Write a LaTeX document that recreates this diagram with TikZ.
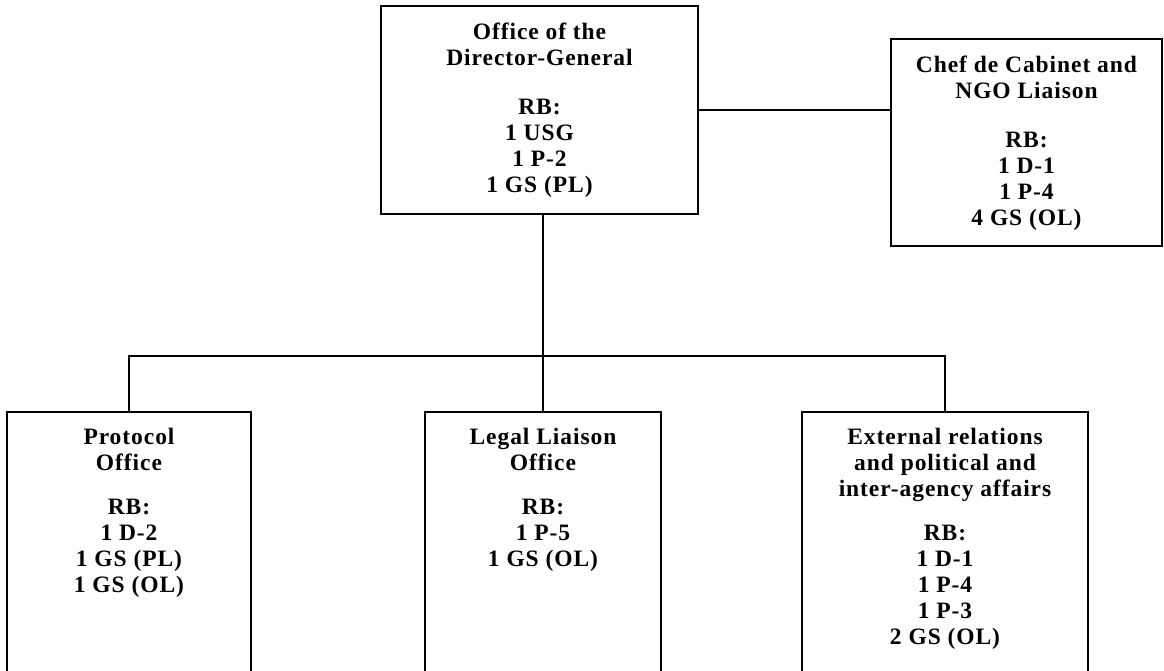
\documentclass[tikz,border=0pt]{standalone}
\usepackage{fontspec}
\setmainfont{Liberation Serif}[LetterSpace=4]
\usetikzlibrary{positioning}

\begin{document}
\begin{tikzpicture}[x=1pt, y=-1pt,
    unit/.style={rectangle, draw, line width=2.3pt, inner sep=0pt},
    unit text/.style={align=center, inner sep=0pt, font=\fontsize{23.5}{26}\selectfont\bfseries},
    link/.style={line width=2.2pt}
]
\clip (0,0) rectangle (1164,671);

% boxes
\node[unit, minimum width=317pt, minimum height=208pt] (dg) at (539.5,110) {};
\node[unit, minimum width=271pt, minimum height=207pt] (chef) at (1026.5,142.5) {};
\node[unit, minimum width=244pt, minimum height=300pt] (protocol) at (129,562) {};
\node[unit, minimum width=236pt, minimum height=300pt] (legal) at (543,562) {};
\node[unit, minimum width=286pt, minimum height=300pt] (external) at (945,562) {};

% texts
\node[unit text, below=18pt of dg.north] (dg text)
    {Office of the\\Director-General\\[23pt]RB:\\1 USG\\1 P-2\\1 GS (PL)};
\node[unit text, below=18pt of chef.north] (chef text)
    {Chef de Cabinet and\\NGO Liaison\\[23pt]RB:\\1 D-1\\1 P-4\\4 GS (OL)};
\node[unit text, below=17pt of protocol.north] (protocol text)
    {Protocol\\Office\\[18pt]RB:\\1 D-2\\1 GS (PL)\\1 GS (OL)};
\node[unit text, below=17pt of legal.north] (legal text)
    {Legal Liaison\\Office\\[18pt]RB:\\1 P-5\\1 GS (OL)};
\node[unit text, below=17pt of external.north] (external text)
    {External relations\\and political and\\inter-agency affairs\\[18pt]RB:\\1 D-1\\1 P-4\\1 P-3\\2 GS (OL)};

% connectors
\coordinate (bus) at (543,356);
\draw[link] (dg.east) -- (dg.east -| chef.west);
\draw[link] (dg.south -| legal.north) -- (legal.north);
\draw[link] (protocol.north) |- (bus) -| (external.north);

\end{tikzpicture}
\end{document}
